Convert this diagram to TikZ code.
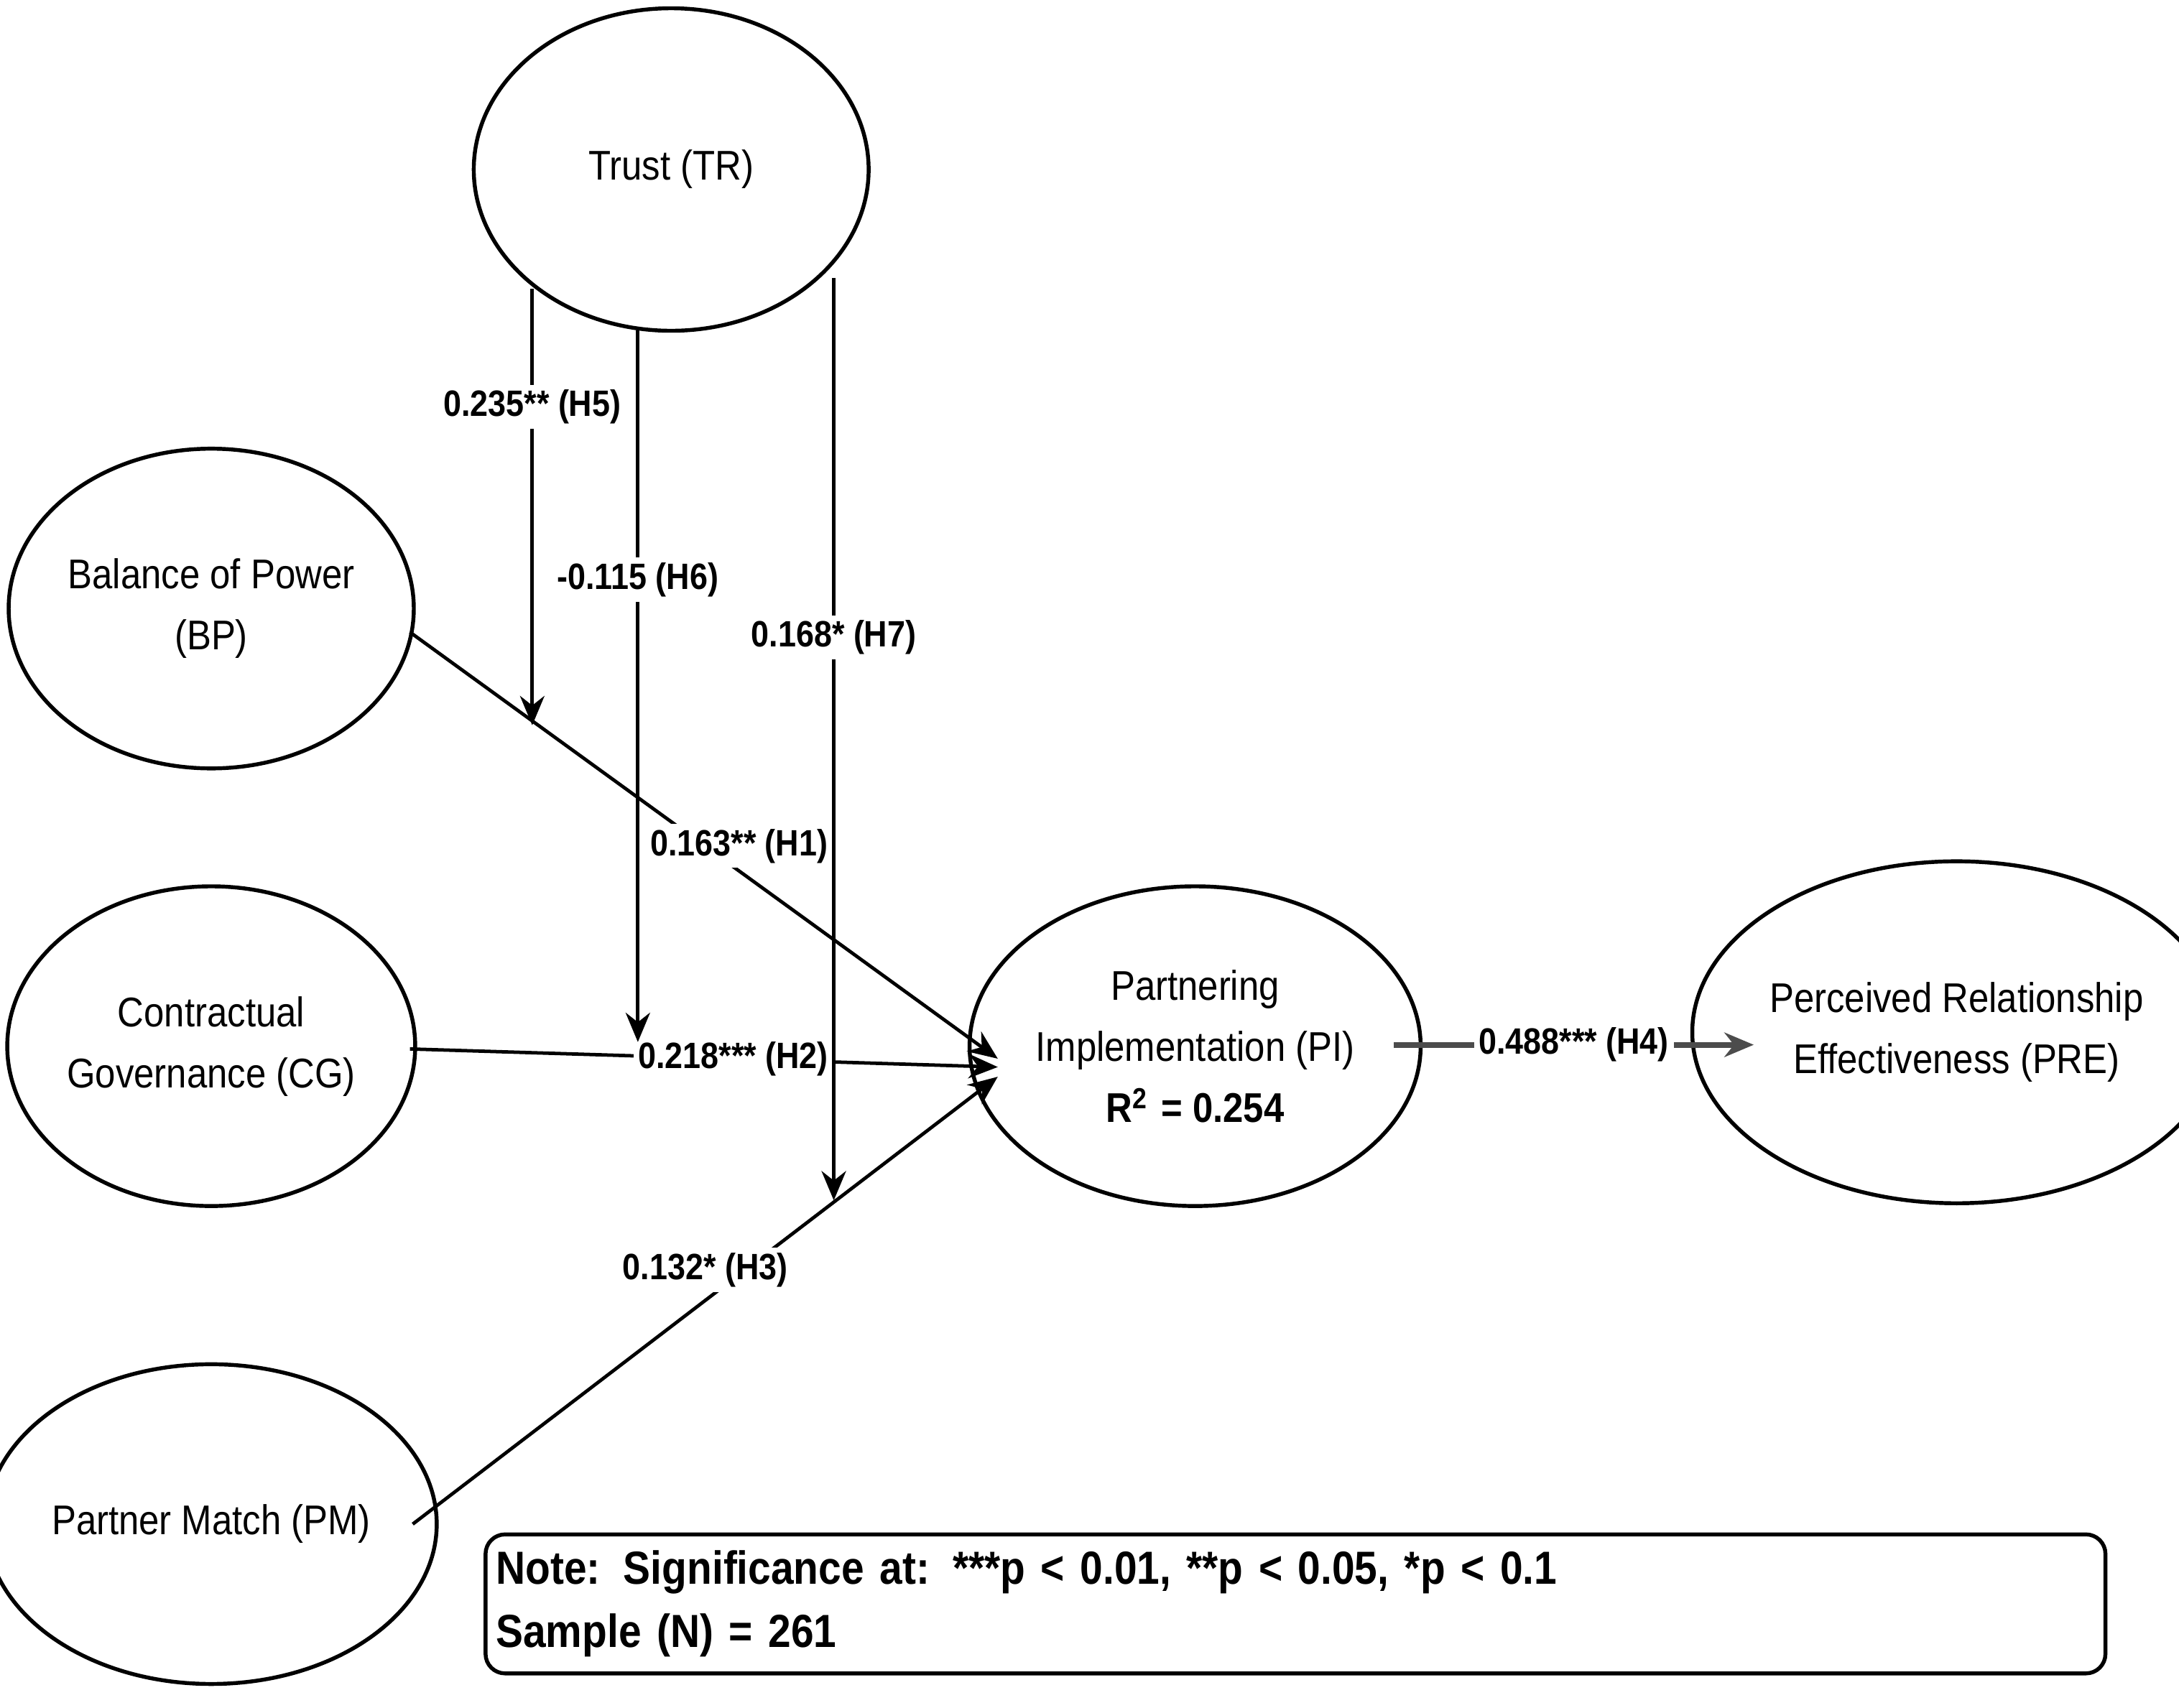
\documentclass[tikz,border=0pt]{standalone}
\usepackage{fontspec}
\setmainfont{Liberation Sans}[FakeStretch=0.88]
\usetikzlibrary{shapes.geometric,arrows.meta}
\begin{document}
\begin{tikzpicture}[x=0.01cm,y=-0.01cm,
  ell/.style={ellipse,draw,line width=0.8pt,align=center,inner sep=0pt,font=\fontsize{8.5}{12.5}\selectfont},
  arr/.style={-{Stealth[length=6pt,width=5pt]},line width=0.7pt},
  lab/.style={fill=white,inner sep=1pt,font=\bfseries\fontsize{7.5}{10}\selectfont}]
\useasboundingbox[fill=white] (0,0) rectangle (1568,1229);
\node[ell,minimum width=2.84cm,minimum height=2.32cm] (TR) at (483,122) {Trust (TR)};
\node[ell,minimum width=2.82cm,minimum height=2.3cm] (BP) at (152,438) {Balance of Power\\(BP)};
\node[ell,minimum width=2.82cm,minimum height=2.3cm] (CG) at (152,753) {Contractual\\Governance (CG)};
\node[ell,minimum width=2.82cm,minimum height=2.3cm] (PM) at (152,1097) {Partner Match (PM)};
\node[ell,minimum width=2.84cm,minimum height=2.3cm] (PI) at (860,753) {Partnering\\Implementation (PI)\\{\bfseries R$^{\mathbf 2}$ = 0.254}};
\node[ell,minimum width=2.9cm,minimum height=2.46cm] (PRE) at (1408,743) {Perceived Relationship\\Effectiveness (PRE)};
\coordinate (pi1) at (718,762);
\coordinate (pi2) at (718,768);
\coordinate (pi3) at (718,775);
\coordinate (bp) at (295,455);
\coordinate (cg) at (295,755);
\coordinate (pm) at (297,1097);
\draw[arr] (bp) -- node[lab,pos=0.56,yshift=0.18cm]{0.163** (H1)} (pi1);
\draw[arr] (cg) -- node[lab,pos=0.55]{0.218*** (H2)} (pi2);
\draw[arr] (pm) -- node[lab,pos=0.5,yshift=0.22cm]{0.132* (H3)} (pi3);
\coordinate (pio) at (1003,752);
\coordinate (prei) at (1262,752);
\draw[arr,line width=1.2pt,gray!60!black] (pio) -- node[lab,text=black]{0.488*** (H4)} (prei);
\coordinate (t5) at (383,208); \coordinate (e5) at (383,522);
\coordinate (t6) at (459,238); \coordinate (e6) at (459,750);
\coordinate (t7) at (600,200); \coordinate (e7) at (600,864);
\draw[arr] (t5) -- node[lab,pos=0.27]{0.235** (H5)} (e5);
\draw[arr] (t6) -- node[lab,pos=0.35]{-0.115 (H6)} (e6);
\draw[arr] (t7) -- node[lab,pos=0.39]{0.168* (H7)} (e7);
\node[draw,rounded corners=4pt,line width=0.8pt,minimum width=11.65cm,minimum height=1.0cm,anchor=north west,align=left,text width=11.5cm,inner sep=2pt,font=\bfseries\fontsize{9.5}{13}\selectfont] (note) at (348,1103) {Note: Significance at: ***p < 0.01, **p < 0.05, *p < 0.1\\Sample (N) = 261};
\end{tikzpicture}
\end{document}
